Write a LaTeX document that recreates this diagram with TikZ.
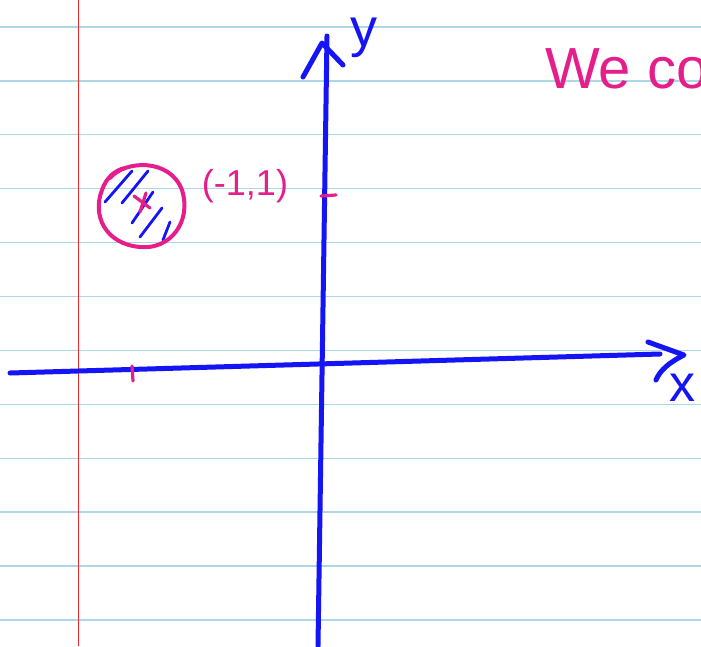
\documentclass[tikz,border=0pt]{standalone}
\usepackage{fontspec}
\setmainfont{Liberation Sans}
\definecolor{inkblue}{RGB}{20,20,245}
\definecolor{inkpink}{RGB}{230,30,140}
\definecolor{ruled}{RGB}{172,216,230}
\definecolor{margin}{RGB}{240,40,40}
\begin{document}
\begin{tikzpicture}[x=1pt,y=-1pt,
  axis/.style={draw=inkblue,line width=5pt,line cap=round,line join=round},
  hatch/.style={draw=inkblue,line width=2.8pt,line cap=round},
  pinkstroke/.style={draw=inkpink,line width=4pt,line cap=round,line join=round},
  ruleline/.style={draw=ruled,line width=1.3pt},
  hand/.style={text=inkpink,inner sep=0pt}]
\useasboundingbox[fill=white] (0,0) rectangle (701,646);
% ruled lines
\foreach \i in {0,...,11}{
  \draw[ruleline] (0,{27+53.9*\i}) -- (701,{27+53.9*\i});
}
\draw[draw=margin,line width=1pt] (78,0) -- (78,646);
% axes
\coordinate (xl) at (10,373);
\coordinate (xr) at (660,354);
\coordinate (yb) at (318,646);
\coordinate (yt) at (327,36);
\draw[axis] (xl) -- (xr);
\draw[axis] (648,342) -- (684,355) .. controls (670,362) and (660,370) .. (656,380);
\draw[axis] (yb) -- (yt);
\draw[axis] (303,77) -- (322,43) -- (343,65);
\node[text=inkblue,font=\fontsize{54}{54}\selectfont,inner sep=0pt] (ylab) at (364,38) {y};
\node[text=inkblue,font=\fontsize{52}{52}\selectfont,inner sep=0pt] (xlab) at (682,388) {x};
% ticks
\coordinate (tx1) at (132,366); \coordinate (tx2) at (133,381);
\draw[pinkstroke,line width=3.2pt] (tx1) -- (tx2);
\coordinate (ty1) at (321,196); \coordinate (ty2) at (336,195);
\draw[pinkstroke,line width=3.2pt] (ty1) -- (ty2);
% hatching
\draw[hatch] (105,202) -- (132,171);
\draw[hatch] (122,203) -- (148,171);
\draw[hatch] (132,223) -- (153,192);
\draw[hatch] (140,237) -- (162,208);
\draw[hatch] (163,240) -- (170,222);
% point marker
\draw[pinkstroke,line width=3.2pt] (134,196) -- (150,208);
\draw[pinkstroke,line width=3.2pt] (146,193) -- (140,212);
% circle
\draw[pinkstroke] (110,178) .. controls (125,160) and (170,158) .. (182,190)
  .. controls (192,222) and (170,250) .. (140,247)
  .. controls (105,244) and (92,215) .. (102,190)
  .. controls (106,178) and (115,170) .. (125,168);
\node[hand,font=\fontsize{36}{36}\selectfont] (pt) at (245,186) {(-1,1)};
\node[hand,font=\fontsize{58}{58}\selectfont,anchor=base west] (we) at (545,88) {We co};
\end{tikzpicture}
\end{document}
